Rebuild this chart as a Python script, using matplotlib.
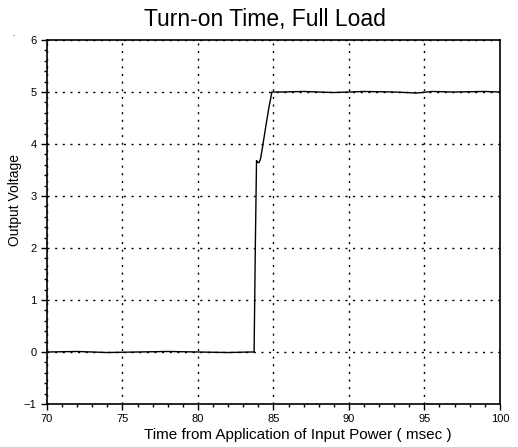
import matplotlib
matplotlib.use("Agg")
import matplotlib.pyplot as plt
from matplotlib.ticker import MultipleLocator

plt.rcParams['font.family'] = ['Liberation Sans', 'DejaVu Sans']

# time (msec) and output voltage
time_ms = [70.0, 72.0, 74.0, 76.0, 78.0, 80.0, 82.0, 83.5, 83.72,
           83.8, 83.88, 83.95, 84.05, 84.15, 84.3, 84.5, 84.7, 84.9,
           85.5, 87.0, 89.0, 91.0, 93.0, 94.5, 95.5, 97.0, 99.0, 100.0]
volts = [0.0, 0.01, -0.01, 0.0, 0.01, 0.0, -0.01, 0.0, 0.0,
         2.0, 3.68, 3.65, 3.64, 3.72, 3.98, 4.35, 4.7, 5.0,
         5.0, 5.01, 4.99, 5.01, 5.0, 4.98, 5.01, 5.0, 5.01, 5.0]

fig = plt.figure(figsize=(5.18, 4.47), dpi=100)
ax = fig.add_axes([0.0907, 0.0962, 0.8743, 0.8143])

ax.plot(time_ms, volts, color='black', linewidth=1.0)

ax.set_xlim(70, 100)
ax.set_ylim(-1, 6)
ax.xaxis.set_major_locator(MultipleLocator(5))
ax.xaxis.set_minor_locator(MultipleLocator(1))
ax.yaxis.set_major_locator(MultipleLocator(1))
ax.yaxis.set_minor_locator(MultipleLocator(0.2))
ax.tick_params(which='major', direction='out', length=4, width=1, labelsize=8)
ax.tick_params(which='minor', direction='out', length=2.5, width=1)
ax.grid(True, which='major', color='black', linestyle=(0, (1.5, 4)), linewidth=1)

for s in ax.spines.values():
    s.set_linewidth(1.2)

fig.text(265 / 518, 1 - 26 / 447, "Turn-on Time, Full Load", fontsize=16.5,
         ha='center', va='baseline')
ax.set_xlabel("Time from Application of Input Power ( msec )", fontsize=11)
ax.xaxis.set_label_coords(0.553, -0.066)
ax.set_ylabel("Output Voltage", fontsize=10)
ax.yaxis.set_label_coords(-0.055, 0.56)
fig.text(12 / 518, 1 - 36 / 447, ".", fontsize=6)

fig.savefig("out.png", dpi=100)
